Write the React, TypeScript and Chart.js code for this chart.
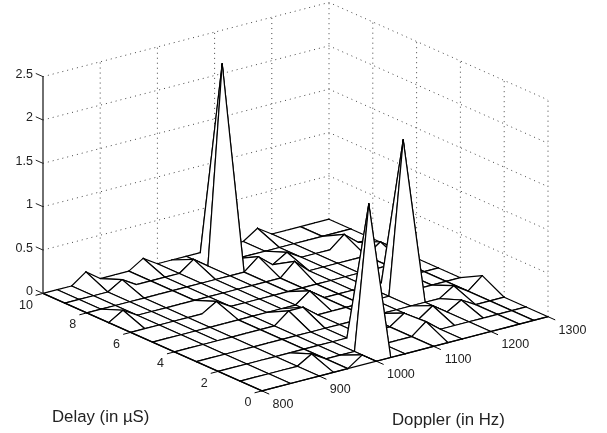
import React, { useEffect, useRef } from "react";
import { Chart, registerables } from "chart.js";

Chart.register(...registerables);

// Doppler (Hz) columns: 800..1300 in 25 Hz steps. Delay (uS) rows: 10..0.
const dopplerHz = [800, 825, 850, 875, 900, 925, 950, 975, 1000, 1025, 1050, 1075, 1100, 1125, 1150, 1175, 1200, 1225, 1250, 1275, 1300];
const delayUs = [10, 9, 8, 7, 6, 5, 4, 3, 2, 1, 0];

const zDelay10 = [0, 0, 0, 0.12, 0, 0, 0, 0.105, 0, 0, 0, 0, 0, 0, 0, 0.11, 0, 0, 0, 0, 0];
const zDelay9 = [0, 0, 0, 0, 0.1, 0, 0, 0, 0, 0.12, 0, 2.29, 0, 0, 0, 0, 0, 0, 0, 0, 0];
const zDelay8 = [0, 0, 0, 0, 0, 0, 0, 0, 0, 0, 0, 0, 0.135, 0, 0.1, 0, 0, 0, 0.135, 0, 0];
const zDelay7 = [0, 0.1, 0, 0, 0, 0, 0, 0, 0, 0, 0, 0, 0, 0.15, 0, 0, 0, 0, 0, 0.12, 0];
const zDelay6 = [0, 0, 0, 0, 0, 0, 0.1, 0, 0, 0, 0, 0, 0, 0, 0, 0, 0, 0, 0, 0, 0];
const zDelay5 = [0, 0, 0, 0, 0, 0, 0, 0, 0, 0, 0, 0.12, 0, 0, 0, 0, 0, 0, 0, 0, 0];
const zDelay4 = [0, 0, 0, 0, 0, 0, 0, 0, 0.13, 0.13, 0, 0, 0, 0, 0, 0, 1.76, 0, 0, 0, 0];
const zDelay3 = [0, 0, 0, 0, 0, 0, 0, 0, 0, 0, 0, 0, 0, 0, 0, 0, 0, 0, 0.106, 0, 0.136];
const zDelay2 = [0, 0, 0, 0, 0, 0, 0, 0, 0, 0, 0, 0, 0, 0.115, 0, 0.116, 0, 0.096, 0, 0, 0];
const zDelay1 = [0, 0, 0, 0, 0, 0.1, 0, 0, 0, 1.66, 0, 0, 0, 0.13, 0, 0, 0, 0, 0, 0, 0];
const zDelay0 = [0, 0, 0, 0, 0, 0, 0, 0.115, 0, 0, 0, 0, 0, 0, 0, 0, 0, 0, 0, 0, 0];
const zRows = [zDelay10, zDelay9, zDelay8, zDelay7, zDelay6, zDelay5, zDelay4, zDelay3, zDelay2, zDelay1, zDelay0];

// Odd Doppler columns are only drawn over part of the delay range: [first row, last row]
const oddColumnRows: Record<number, number[]> = {
  1: [0, 4], 3: [0, 6], 5: [8, 10], 7: [0, 10], 9: [0, 10],
  11: [0, 6], 13: [2, 10], 15: [0, 9], 17: [7, 9], 19: [2, 10],
};

const zTicks = [0, 0.5, 1, 1.5, 2, 2.5];
const delayTicks = [10, 8, 6, 4, 2, 0];
const dopplerTicks = [800, 900, 1000, 1100, 1200, 1300];

const FONT = '"Liberation Sans", Arial, sans-serif';

// Orthographic view of the box
const origin = { x: 43, y: 293.4 };
const perHz = { x: 286 / 500, y: -74.2 / 500 };
const perUs = { x: -21.9, y: -9.75 };
const perZ = -86.7;

function project(hz: number, us: number, z: number) {
  return {
    x: origin.x + (hz - 800) * perHz.x + (us - 10) * perUs.x,
    y: origin.y + (hz - 800) * perHz.y + (us - 10) * perUs.y + z * perZ,
  };
}

const lineDs = (data: { x: number; y: number }[], extra: object = {}) => ({
  data,
  showLine: true,
  pointRadius: 0,
  pointHoverRadius: 0,
  tension: 0,
  borderColor: "#000",
  borderWidth: 1,
  fill: false,
  ...extra,
});

function columnDrawn(c: number, r: number) {
  const span = oddColumnRows[c];
  if (!span) return true;
  return r >= span[0] && r + 1 <= span[1];
}

function buildDatasets() {
  const front: any[] = [];
  // axis lines and tick marks (drawn last => first in the list)
  front.push(lineDs([project(800, 10, 0), project(800, 10, 2.5)], { borderColor: "#222", borderWidth: 1.3 }));
  front.push(lineDs([project(800, 10, 0), project(800, 0, 0), project(1300, 0, 0)], { borderWidth: 1.2 }));
  zTicks.forEach((t) => front.push(lineDs([project(800, 10, t), project(800, 10.33, t)], { borderColor: "#222" })));
  delayTicks.forEach((t) => front.push(lineDs([project(800, t, 0), project(787, t, 0)])));
  dopplerTicks.forEach((t) => front.push(lineDs([project(t, 0, 0), project(t, -0.33, 0)])));

  // mesh cells: nearest first, since Chart.js paints the list from the end
  const cells: { depth: number; ds: any[] }[] = [];
  const edge = { borderWidth: 1.2, borderCapStyle: "round" };
  for (let r = 0; r < delayUs.length - 1; r++) {
    for (let c = 0; c < dopplerHz.length - 1; c++) {
      const a = project(dopplerHz[c], delayUs[r], zRows[r][c]);
      const b = project(dopplerHz[c + 1], delayUs[r], zRows[r][c + 1]);
      const d = project(dopplerHz[c + 1], delayUs[r + 1], zRows[r + 1][c + 1]);
      const e = project(dopplerHz[c], delayUs[r + 1], zRows[r + 1][c]);
      const ds: any[] = [];
      ds.push(lineDs([a, b], edge));
      ds.push(lineDs([e, d], edge));
      if (columnDrawn(c, r)) ds.push(lineDs([a, e], edge));
      if (columnDrawn(c + 1, r)) ds.push(lineDs([b, d], edge));
      ds.push(lineDs([a, b, d, e, a], { fill: "shape", backgroundColor: "#fff", borderColor: "rgba(0,0,0,0)", borderWidth: 0 }));
      cells.push({ depth: r - c, ds });
    }
  }
  cells.sort((p, q) => q.depth - p.depth);
  cells.forEach((c) => c.ds.forEach((d) => front.push(d)));

  // dotted walls
  const dotted = { borderColor: "#444", borderWidth: 1, borderDash: [1, 4] };
  zTicks.forEach((t) =>
    front.push(lineDs([project(800, 10, t), project(1300, 10, t), project(1300, 0, t)], dotted))
  );
  dopplerTicks.slice(1).forEach((t) => front.push(lineDs([project(t, 10, 0), project(t, 10, 2.5)], dotted)));
  delayTicks.slice(1).forEach((t) => front.push(lineDs([project(1300, t, 0), project(1300, t, 2.5)], dotted)));
  return front;
}

const labelsPlugin = {
  id: "boxLabels",
  afterDraw(chart: any) {
    const { ctx, scales } = chart;
    const put = (txt: string, p: { x: number; y: number }, dx: number, dy: number, align: CanvasTextAlign) => {
      ctx.textAlign = align;
      ctx.fillText(txt, scales.x.getPixelForValue(p.x + dx), scales.y.getPixelForValue(p.y + dy));
    };
    ctx.save();
    ctx.fillStyle = "#222";
    ctx.textBaseline = "middle";
    ctx.font = `12.5px ${FONT}`;
    zTicks.forEach((t) => put(String(t), project(800, 10, t), -10, -2, "right"));
    delayTicks.forEach((t) => put(String(t), project(800, t, 0), t === 10 ? -17 : -14, 12, "center"));
    dopplerTicks.forEach((t) => put(String(t), project(t, 0, 0), t >= 1000 ? 24.5 : 21, 13.5, "center"));
    ctx.font = `16.8px ${FONT}`;
    ctx.textBaseline = "alphabetic";
    ctx.textAlign = "left";
    ctx.fillText("Delay (in \u00b5S)", 52, 421.5);
    ctx.fillText("Doppler (in Hz)", 392, 425);
    ctx.restore();
  },
};

export default function App() {
  const ref = useRef<HTMLCanvasElement>(null);
  useEffect(() => {
    document.body.style.margin = "0";
    const chart = new Chart(ref.current!, {
      type: "scatter",
      data: { datasets: buildDatasets() },
      options: {
        animation: false,
        responsive: false,
        events: [],
        layout: { padding: 0 },
        plugins: { legend: { display: false }, tooltip: { enabled: false }, title: { display: false } },
        scales: {
          x: { type: "linear", display: false, min: 0, max: 607 },
          y: { type: "linear", display: false, min: 0, max: 433, reverse: true },
        },
      },
      plugins: [labelsPlugin],
    } as any);
    return () => chart.destroy();
  }, []);
  return <canvas ref={ref} width={607} height={433} style={{ display: "block", background: "#fff" }} />;
}
